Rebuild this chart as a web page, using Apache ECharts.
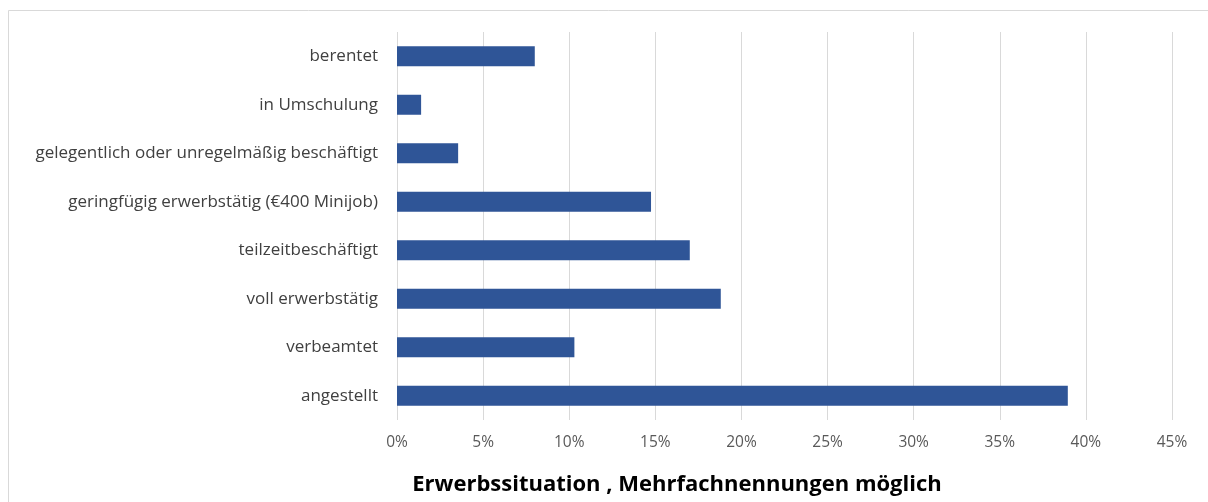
<!DOCTYPE html>
<html><head><meta charset="utf-8">
<script src="https://cdn.jsdelivr.net/npm/echarts@6/dist/echarts.min.js"></script>
<style>html,body{margin:0;padding:0;background:#fff}#c{width:1208px;height:502px}</style>
</head><body><div id="c"></div>
<script>
var categories = ["angestellt","verbeamtet","voll erwerbstätig","teilzeitbeschäftigt","geringfügig erwerbstätig (€400 Minijob)","gelegentlich oder unregelmäßig beschäftigt","in Umschulung","berentet"];
var values = [38.95, 10.3, 18.8, 17.0, 14.75, 3.55, 1.4, 8.0];
var xTicks = {min: 0, max: 45, interval: 5};
var titleText = "Erwerbssituation , Mehrfachnennungen möglich";

var chart = echarts.init(document.getElementById('c'), null, {renderer: 'canvas'});
chart.setOption({
  animation: false,
  backgroundColor: '#fff',
  graphic: [{type: 'rect', shape: {x: 8.5, y: 10.5, width: 1210, height: 500}, style: {fill: 'none', stroke: '#d9d9d9', lineWidth: 1}}],
  title: {text: titleText, left: 672, top: 469, textAlign: 'center',
    textStyle: {fontFamily: 'Open Sans', fontWeight: 'bold', fontSize: 22, color: '#000'}},
  grid: {left: 397, right: 36, top: 32, bottom: 82, containLabel: false},
  xAxis: {type: 'value', min: xTicks.min, max: xTicks.max, interval: xTicks.interval,
    axisLine: {show: false}, axisTick: {show: false},
    axisLabel: {formatter: '{value}%', color: '#595959', fontFamily: 'Open Sans', fontSize: 15.5, margin: 15},
    splitLine: {lineStyle: {color: '#d9d9d9', width: 1}}},
  yAxis: {type: 'category', data: categories, axisLine: {show: false}, axisTick: {show: false},
    axisLabel: {color: '#404040', fontFamily: 'Open Sans', fontSize: 17, margin: 19}},
  series: [{type: 'bar', data: values, barWidth: 20, itemStyle: {color: '#2F5597'}}]
});
</script></body></html>
